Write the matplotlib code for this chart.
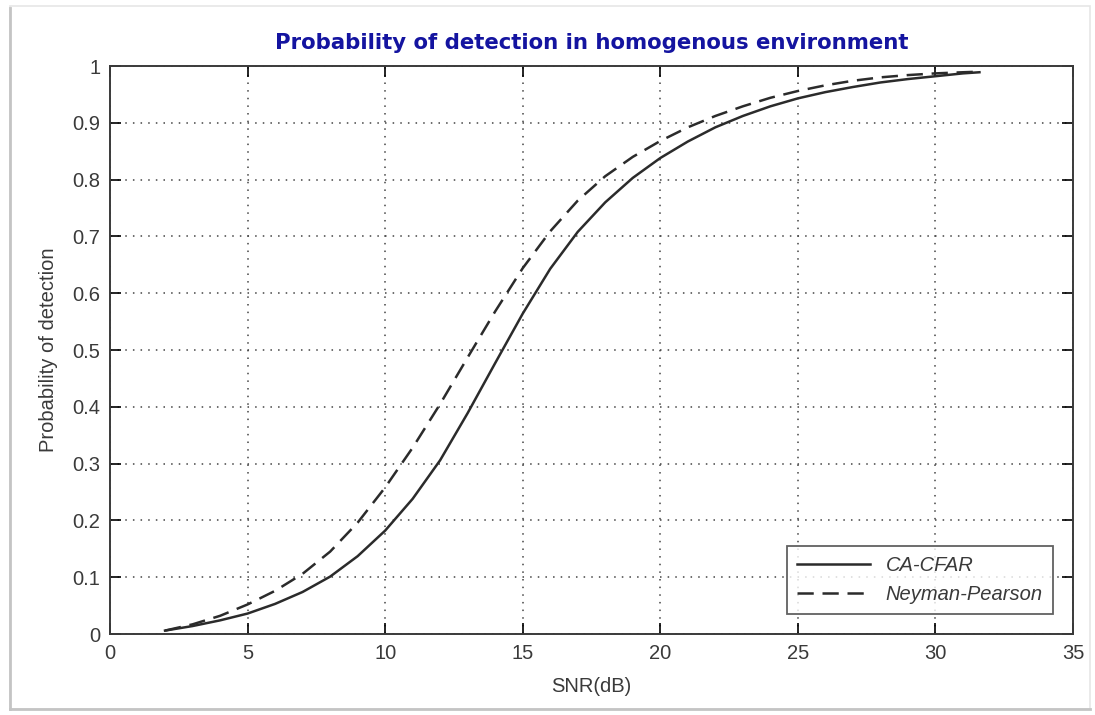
import numpy as np
import matplotlib
matplotlib.use('Agg')
import matplotlib.pyplot as plt
from matplotlib.patches import Rectangle
from matplotlib.lines import Line2D

# SNR (dB) and detection probabilities
snr = [2, 3, 4, 5, 6, 7, 8, 9, 10, 11, 12, 13, 14, 15, 16, 17, 18, 19, 20,
       21, 22, 23, 24, 25, 26, 27, 28, 29, 30, 31, 31.6]
pd_cacfar = [0.006, 0.014, 0.024, 0.036, 0.053, 0.074, 0.101, 0.137, 0.182,
             0.238, 0.306, 0.389, 0.477, 0.564, 0.643, 0.708, 0.760, 0.803,
             0.838, 0.867, 0.892, 0.912, 0.929, 0.943, 0.954, 0.963, 0.971,
             0.977, 0.982, 0.987, 0.989]
pd_np = [0.006, 0.017, 0.032, 0.052, 0.076, 0.106, 0.145, 0.196, 0.258,
         0.328, 0.405, 0.487, 0.568, 0.644, 0.709, 0.763, 0.806, 0.840,
         0.868, 0.892, 0.912, 0.929, 0.944, 0.956, 0.966, 0.974, 0.980,
         0.984, 0.987, 0.989, 0.990]

xticks = [0, 5, 10, 15, 20, 25, 30, 35]
yticks = [0, 0.1, 0.2, 0.3, 0.4, 0.5, 0.6, 0.7, 0.8, 0.9, 1]
ytick_labels = ['0', '0.1', '0.2', '0.3', '0.4', '0.5', '0.6', '0.7', '0.8', '0.9', '1']

plt.rcParams['font.family'] = ['Liberation Sans', 'DejaVu Sans']

fig = plt.figure(figsize=(10.95, 7.15), dpi=100)
fig.patch.set_facecolor('white')

# screenshot frame with a soft shadow on the left / bottom
W, H = 1095, 715
fig.add_artist(Rectangle((10 / W, 1 - 709 / H), 1080 / W, 703 / H,
                         transform=fig.transFigure, fill=False,
                         edgecolor='#e6e6e6', linewidth=1.2))
fig.add_artist(Line2D([10 / W, 10 / W], [1 - 709 / H, 1 - 8 / H],
                      transform=fig.transFigure, color='#c4c4c4', linewidth=2))
fig.add_artist(Line2D([10 / W, 1090 / W], [1 - 709 / H, 1 - 709 / H],
                      transform=fig.transFigure, color='#c4c4c4', linewidth=2))

ax = fig.add_axes([110 / W, 1 - 634 / H, (1073 - 110) / W, (634 - 66) / H])

ax.plot(snr, pd_cacfar, color='#2b2b2b', linewidth=1.8, label='CA-CFAR')
ax.plot(snr, pd_np, color='#2b2b2b', linewidth=1.8, dashes=(6.5, 3.5),
        label='Neyman-Pearson')

ax.set_xlim(0, 35)
ax.set_ylim(0, 1)
ax.set_xticks(xticks)
ax.set_yticks(yticks)
ax.set_yticklabels(ytick_labels)

ax.grid(True, linestyle=(0, (1, 4)), color='#444444', linewidth=1.1)
ax.tick_params(direction='in', length=8, width=1.2, top=True, right=True,
               labelsize=14.5, labelcolor='#3a3a3a', pad=7)
for s in ax.spines.values():
    s.set_color('#3a3a3a')
    s.set_linewidth(1.4)

ax.set_xlabel('SNR(dB)', fontsize=14.5, color='#3a3a3a', labelpad=10)
ax.set_ylabel('Probability of detection', fontsize=14.5, color='#3a3a3a', labelpad=10)
ax.set_title('Probability of detection in homogenous environment',
             fontsize=15.3, fontweight='heavy', color='#1414a0',
             family='DejaVu Sans', pad=12)

leg = ax.legend(loc='lower right', frameon=True, fancybox=False,
                borderaxespad=1.0, handlelength=3.6, borderpad=0.5,
                labelspacing=0.5, prop={'style': 'italic', 'size': 14.5})
leg.get_frame().set_edgecolor('#3a3a3a')
leg.get_frame().set_linewidth(1.3)
for t in leg.get_texts():
    t.set_color('#3a3a3a')

fig.savefig('out.png', dpi=100, facecolor='white')
